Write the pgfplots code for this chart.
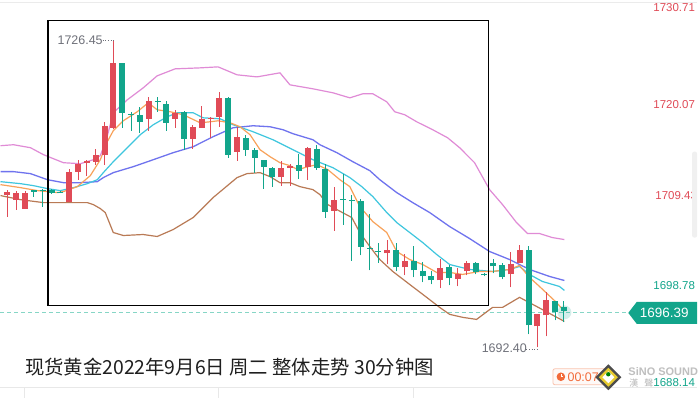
\documentclass[border=0pt]{standalone}
\usepackage{pgfplots}
\pgfplotsset{compat=1.18}
\usepackage{fontspec}
\setmainfont{Liberation Sans}
\newfontfamily\cjk{Noto Sans CJK SC}
\definecolor{cred}{HTML}{E04B57}
\definecolor{cgreen}{HTML}{12A58B}
\definecolor{cpink}{HTML}{E08BD6}
\definecolor{cblue}{HTML}{6F73EE}
\definecolor{ccyan}{HTML}{3EC6DE}
\definecolor{corange}{HTML}{F8A25A}
\definecolor{cbrown}{HTML}{B97A55}
\definecolor{cgray}{HTML}{6E7079}
\definecolor{cdash}{HTML}{86D6C6}
\definecolor{ctimer}{HTML}{F26B3A}
\begin{document}
\begin{tikzpicture}
\fill[white] (0,0) rectangle (698pt,399pt);
\begin{scope}[yscale=-1, yshift=-399pt, x=1pt, y=1pt]
\draw[color=black!8, line width=1pt] (0,2.5) -- (698,2.5);
\draw[color=black!9, line width=1pt] (0,388.5) -- (698,388.5);
\draw[color=black!9, line width=1pt] (24.5,389) -- (24.5,399);
\draw[color=black!9, line width=1pt] (218.5,389) -- (218.5,399);
\draw[color=black!9, line width=1pt] (413.5,389) -- (413.5,399);
\draw[cdash, dash pattern=on 4pt off 3pt, line width=0.9pt] (0,313) -- (630,313);
\end{scope}
\begin{axis}[at={(0,0)}, anchor=south west, scale only axis, width=698pt, height=399pt,
  xmin=-0.791, xmax=78.079, ymin=1686.765, ymax=1730.853, hide axis, clip=true,
  unbounded coords=jump]
% pink upper band
\addplot[cpink, line width=1.2pt, mark=none] coordinates {(-0.79,1714.72) (0.68,1714.83) (2.60,1714.50) (4.07,1713.73) (6.33,1712.84) (8.25,1712.73) (9.72,1713.17) (10.51,1713.62) (11.19,1715.38) (11.98,1718.37) (13.56,1719.80) (15.37,1721.13) (16.95,1722.46) (18.98,1723.23) (21.81,1723.34) (23.84,1723.45) (25.99,1722.57) (28.25,1722.34) (30.85,1722.79) (31.98,1721.46) (34.58,1721.02) (36.84,1720.58) (38.76,1720.02) (40.23,1720.47) (41.36,1720.47) (42.94,1719.58) (43.84,1718.48) (44.97,1718.15) (46.33,1717.37) (48.14,1716.49) (49.83,1715.60) (51.19,1714.50) (52.88,1712.84) (54.58,1709.86) (56.05,1708.20) (57.63,1706.21) (58.87,1705.00) (60.23,1705.00) (61.69,1704.55) (63.05,1704.33)};
% blue
\addplot[cblue, line width=1.3pt, mark=none] coordinates {(-0.79,1711.85) (0.68,1711.85) (2.60,1711.63) (4.52,1710.96) (6.33,1710.63) (8.25,1710.63) (10.17,1710.74) (10.85,1711.19) (11.98,1711.74) (14.24,1712.40) (16.50,1713.17) (18.76,1713.95) (21.02,1714.61) (23.28,1715.72) (25.54,1716.71) (27.80,1716.93) (29.72,1716.82) (31.19,1716.49) (32.32,1716.05) (34.58,1715.38) (35.37,1714.83) (37.29,1713.95) (39.10,1712.95) (41.02,1711.96) (42.15,1710.96) (44.07,1709.53) (45.88,1708.42) (47.80,1707.32) (50.06,1705.77) (52.32,1704.44) (54.58,1703.01) (56.84,1702.12) (59.10,1701.02) (61.36,1700.25) (63.05,1699.80)};
% cyan
\addplot[ccyan, line width=1.2pt, mark=none] coordinates {(-0.79,1710.74) (1.47,1710.52) (2.94,1710.30) (4.52,1709.97) (5.99,1709.75) (7.46,1710.08) (9.04,1710.52) (10.17,1710.96) (10.85,1711.74) (11.98,1712.95) (13.56,1714.50) (15.03,1715.94) (16.50,1717.04) (18.08,1717.92) (19.21,1718.37) (21.02,1718.37) (22.15,1717.81) (24.07,1717.70) (25.54,1717.04) (27.80,1716.27) (30.06,1715.38) (32.32,1714.28) (34.58,1713.17) (36.84,1712.29) (38.76,1711.19) (40.11,1710.19) (41.36,1709.09) (42.94,1707.32) (44.07,1706.21) (45.54,1705.11) (47.01,1704.00) (48.59,1702.68) (50.06,1701.57) (52.32,1701.02) (54.92,1700.80) (56.84,1701.02) (57.97,1701.35) (59.10,1700.47) (60.56,1699.69) (62.49,1699.14) (63.05,1698.70)};
% orange
\addplot[corange, line width=1.2pt, mark=none] coordinates {(-0.79,1710.41) (1.47,1710.08) (3.39,1709.75) (5.65,1709.53) (6.33,1709.64) (7.91,1710.19) (9.38,1711.41) (10.51,1713.17) (11.30,1715.16) (11.98,1716.38) (13.11,1717.48) (14.69,1718.48) (15.93,1719.47) (16.95,1718.70) (18.42,1718.48) (19.89,1718.15) (21.81,1717.26) (22.94,1717.37) (23.84,1717.48) (25.20,1717.26) (26.33,1716.82) (27.46,1715.94) (28.59,1714.28) (29.72,1713.51) (30.85,1712.84) (31.98,1712.51) (32.88,1712.07) (34.01,1712.40) (35.03,1712.62) (36.27,1712.07) (37.63,1710.96) (38.76,1710.19) (39.89,1707.98) (41.36,1706.32) (42.94,1705.11) (44.07,1703.01) (45.54,1702.12) (47.01,1701.57) (48.59,1700.69) (50.06,1700.69) (51.53,1700.47) (53.45,1700.80) (54.92,1700.80) (56.84,1701.02) (57.97,1701.46) (59.10,1700.14) (60.23,1699.14) (62.15,1697.37) (63.05,1696.38)};
% brown lower band
\addplot[cbrown, line width=1.2pt, mark=none] coordinates {(-0.79,1709.20) (1.47,1708.75) (4.07,1708.42) (6.78,1708.42) (9.04,1708.42) (9.72,1708.20) (10.51,1707.76) (11.07,1707.32) (11.98,1705.11) (13.11,1704.78) (15.37,1704.89) (16.95,1704.67) (18.76,1705.44) (21.02,1706.77) (23.28,1708.98) (24.63,1710.08) (25.99,1711.19) (27.12,1711.63) (28.59,1711.74) (29.72,1711.30) (30.85,1710.63) (31.98,1710.63) (33.11,1710.19) (34.58,1709.86) (35.37,1709.31) (36.27,1708.20) (37.29,1707.65) (38.98,1706.77) (39.89,1705.11) (41.02,1703.56) (42.15,1702.12) (43.62,1700.80) (45.54,1699.36) (47.46,1697.93) (48.93,1696.82) (50.06,1696.05) (51.53,1695.72) (53.11,1695.49) (54.92,1696.82) (56.05,1696.82) (57.97,1697.93) (59.89,1696.93) (63.05,1695.27)};
% red wicks
\addplot[cred, line width=1pt, mark=none] coordinates {
(0,1706.88)(0,1709.86)(0,nan) (1,1707.65)(1,1709.75)(1,nan) (2,1707.76)(2,1709.75)(2,nan)
(7,1708.53)(7,1712.18)(7,nan) (8,1710.96)(8,1713.17)(8,nan) (9,1711.41)(9,1713.17)(9,nan)
(10,1712.62)(10,1714.39)(10,nan) (11,1712.62)(11,1717.37)(11,nan) (12,1716.60)(12,1726.45)(12,nan)
(16,1716.38)(16,1720.13)(16,nan) (19,1716.71)(19,1718.70)(19,nan) (21,1714.39)(21,1717.04)(21,nan)
(22,1716.71)(22,1719.14)(22,nan) (23,1715.60)(23,1717.92)(23,nan) (24,1716.82)(24,1720.69)(24,nan)
(26,1713.06)(26,1716.82)(26,nan) (31,1710.30)(31,1713.06)(31,nan) (32,1710.30)(32,1712.73)(32,nan)
(34,1710.96)(34,1714.61)(34,nan) (37,1705.33)(37,1710.19)(37,nan) (43,1701.57)(43,1704.33)(43,nan)
(45,1700.36)(45,1702.68)(45,nan) (49,1698.92)(49,1702.23)(49,nan) (51,1699.14)(51,1701.13)(51,nan)
(52,1700.36)(52,1702.01)(52,nan) (57,1699.03)(57,1702.90)(57,nan) (58,1701.79)(58,1703.78)(58,nan)
(60,1692.40)(60,1696.05)(60,nan) (61,1693.62)(61,1698.48)(61,nan)};
% red bodies
\addplot[cred, line width=6pt, line cap=butt, mark=none] coordinates {
(0,1709.31)(0,1709.64)(0,nan) (1,1708.75)(1,1709.53)(1,nan) (2,1707.76)(2,1709.53)(2,nan)
(7,1708.53)(7,1711.85)(7,nan) (8,1711.85)(8,1712.73)(8,nan) (9,1712.84)(9,1713.06)(9,nan)
(10,1712.95)(10,1713.73)(10,nan) (11,1713.73)(11,1716.93)(11,nan) (12,1716.71)(12,1723.89)(12,nan)
(16,1717.70)(16,1719.69)(16,nan) (19,1717.70)(19,1718.37)(19,nan) (21,1715.49)(21,1716.82)(21,nan)
(22,1716.71)(22,1717.70)(22,nan) (23,1717.70)(23,1717.81)(23,nan) (24,1717.92)(24,1720.02)(24,nan)
(26,1714.06)(26,1715.72)(26,nan) (31,1711.30)(31,1712.29)(31,nan) (32,1712.29)(32,1712.51)(32,nan)
(34,1712.40)(34,1714.50)(34,nan) (37,1707.54)(37,1708.75)(37,nan) (43,1702.79)(43,1703.23)(43,nan)
(45,1701.24)(45,1702.01)(45,nan) (49,1699.80)(49,1701.13)(49,nan) (51,1699.91)(51,1700.47)(51,nan)
(52,1700.80)(52,1701.79)(52,nan) (57,1700.47)(57,1701.57)(57,nan) (58,1701.79)(58,1703.23)(58,nan)
(60,1694.72)(60,1696.05)(60,nan) (61,1695.94)(61,1697.59)(61,nan)};
% green wicks
\addplot[cgreen, line width=1pt, mark=none] coordinates {
(3,1709.09)(3,1709.86)(3,nan) (4,1707.98)(4,1709.97)(4,nan) (5,1709.42)(5,1709.97)(5,nan)
(6,1709.53)(6,1709.75)(6,nan) (13,1716.71)(13,1723.89)(13,nan) (14,1716.38)(14,1718.48)(14,nan)
(15,1716.16)(15,1719.03)(15,nan) (17,1718.48)(17,1720.13)(17,nan) (18,1716.38)(18,1719.69)(18,nan)
(20,1714.28)(20,1718.59)(20,nan) (25,1713.39)(25,1720.13)(25,nan) (27,1713.62)(27,1715.94)(27,nan)
(28,1711.74)(28,1714.50)(28,nan) (29,1709.97)(29,1713.17)(29,nan) (30,1710.19)(30,1712.40)(30,nan)
(33,1711.07)(33,1713.84)(33,nan) (35,1712.07)(35,1714.83)(35,nan) (36,1706.77)(36,1712.73)(36,nan)
(38,1705.99)(38,1711.63)(38,nan) (39,1702.01)(39,1709.31)(39,nan) (40,1702.57)(40,1708.86)(40,nan)
(41,1700.91)(41,1707.21)(41,nan) (42,1701.79)(42,1704.00)(42,nan) (44,1700.80)(44,1704.00)(44,nan)
(46,1700.14)(46,1703.67)(46,nan) (47,1699.58)(47,1701.90)(47,nan) (48,1699.36)(48,1700.80)(48,nan)
(50,1699.25)(50,1701.46)(50,nan) (53,1700.47)(53,1701.90)(53,nan) (54,1700.25)(54,1700.58)(54,nan)
(55,1700.58)(55,1702.23)(55,nan) (56,1699.91)(56,1701.79)(56,nan) (59,1693.84)(59,1703.67)(59,nan)
(62,1695.38)(62,1697.48)(62,nan) (63,1695.16)(63,1697.48)(63,nan)};
% green bodies
\addplot[cgreen, line width=6pt, line cap=butt, mark=none] coordinates {
(3,1709.64)(3,1709.86)(3,nan) (4,1709.75)(4,1709.86)(4,nan) (5,1709.53)(5,1709.86)(5,nan)
(6,1709.53)(6,1709.64)(6,nan) (13,1718.37)(13,1723.89)(13,nan) (14,1718.15)(14,1718.26)(14,nan)
(15,1717.37)(15,1718.15)(15,nan) (17,1719.58)(17,1719.69)(17,nan) (18,1717.26)(18,1719.36)(18,nan)
(20,1715.49)(20,1718.48)(20,nan) (25,1713.73)(25,1720.02)(25,nan) (27,1714.28)(27,1715.60)(27,nan)
(28,1713.39)(28,1714.28)(28,nan) (29,1712.40)(29,1713.17)(29,nan) (30,1711.30)(30,1712.29)(30,nan)
(33,1711.96)(33,1712.62)(33,nan) (35,1712.29)(35,1714.39)(35,nan) (36,1707.43)(36,1712.18)(36,nan)
(38,1708.75)(38,1708.86)(38,nan) (39,1708.64)(39,1708.75)(39,nan) (40,1703.56)(40,1708.64)(40,nan)
(41,1703.34)(41,1703.45)(41,nan) (42,1702.90)(42,1703.01)(42,nan) (44,1701.24)(44,1703.12)(44,nan)
(46,1700.91)(46,1702.01)(46,nan) (47,1700.25)(47,1700.80)(47,nan) (48,1699.80)(48,1700.25)(48,nan)
(50,1700.02)(50,1701.24)(50,nan) (53,1700.69)(53,1701.79)(53,nan) (54,1700.36)(54,1700.47)(54,nan)
(55,1701.35)(55,1701.79)(55,nan) (56,1700.14)(56,1701.46)(56,nan) (59,1694.83)(59,1703.23)(59,nan)
(62,1696.27)(62,1697.48)(62,nan) (63,1696.39)(63,1696.82)(63,nan)};
\end{axis}
\begin{scope}[yscale=-1, yshift=-399pt, x=1pt, y=1pt]
% annotation box
\draw[black, line width=1.4pt] (47.5,20.5) rectangle (489,306);
% glow on last candle
\fill[cgreen, opacity=0.18] (565,313) circle (7);
% high / low labels
\node[anchor=west, inner sep=0pt, text=cgray, font=\fontsize{12.5}{12.5}\selectfont] at (57,40.5) {1726.45};
\draw[cgray, line width=0.8pt, dash pattern=on 1pt off 1.6pt] (102.5,40.5) -- (113,40.5);
\node[anchor=west, inner sep=0pt, text=cgray, font=\fontsize{12.5}{12.5}\selectfont] at (482,349) {1692.40};
\draw[cgray, line width=0.8pt, dash pattern=on 1pt off 1.6pt] (527,350) -- (538,350);
% right price labels
\node[anchor=east, inner sep=0pt, text=cred, font=\fontsize{11.5}{11.5}\selectfont] at (696,7.5) {1730.71};
\node[anchor=east, inner sep=0pt, text=cred, font=\fontsize{11.5}{11.5}\selectfont] at (696,105) {1720.07};
\node[anchor=east, inner sep=0pt, text=cred, font=\fontsize{11.5}{11.5}\selectfont] at (698,196) {1709.43};
\fill[color=black!6, rounded corners=2pt] (693,152) rectangle (698,238);
\node[anchor=east, inner sep=0pt, text=cgreen, font=\fontsize{11.5}{11.5}\selectfont] at (696,286.5) {1698.78};
\node[anchor=east, inner sep=0pt, text=cgreen, font=\fontsize{11.5}{11.5}\selectfont] at (696,383) {1688.14};
% current price tag
\fill[cgreen] (629,313.5) -- (637.5,302.5) -- (698,302.5) -- (698,324.5) -- (637.5,324.5) -- cycle;
\node[anchor=center, inner sep=0pt, text=white, font=\fontsize{13.5}{13.5}\selectfont] at (665,313.8) {1696.39};
% title
\node[anchor=west, inner sep=0pt, text=black!88, font=\cjk\fontsize{19.4}{19.4}\selectfont] at (24.5,367.5) {现货黄金2022年9月6日 周二 整体走势 30分钟图};
% timer box
\draw[color=ctimer!40, fill=ctimer!4, line width=0.8pt, rounded corners=2pt] (553.5,369.5) rectangle (614,385.5);
\fill[ctimer] (561.5,377.5) circle (4.3);
\draw[white, line width=0.8pt] (561.5,375) -- (561.5,377.5) -- (563.3,377.5);
\node[anchor=west, inner sep=0pt, text=ctimer, font=\fontsize{12.5}{12.5}\selectfont] at (568,378) {00:07:};
% logo
\fill[black!70] (609,365) -- (622,378) -- (609,391) -- (596,378) -- cycle;
\fill[yellow!60!brown] (609,368.5) -- (618.5,378) -- (609,387.5) -- (599.5,378) -- cycle;
\fill[white] (609,372) -- (615,378) -- (609,384) -- (603,378) -- cycle;
\fill[green!50!black] (609,375) circle (2.2);
\node[anchor=west, inner sep=0pt, text=black!25, font=\bfseries\fontsize{11}{11}\selectfont] at (629,372.5) {SiNO SOUND};
\node[anchor=west, inner sep=0pt, text=black!28, font=\cjk\fontsize{9}{9}\selectfont] at (630,384) {漢\hspace{6pt}聲};
\end{scope}
\end{tikzpicture}
\end{document}
